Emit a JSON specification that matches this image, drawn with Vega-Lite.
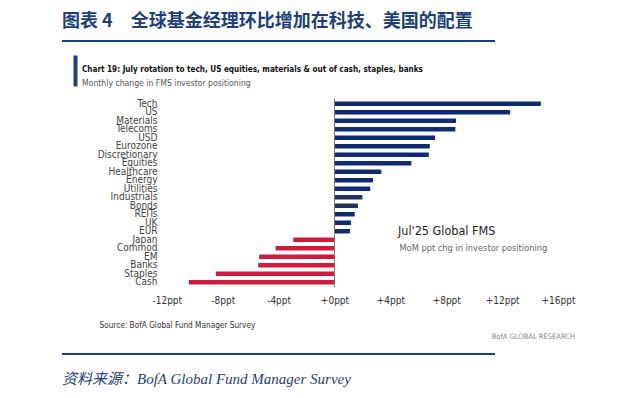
{
  "$schema": "https://vega.github.io/schema/vega-lite/v6.json",
  "background": "white",
  "padding": {"left": 62, "top": 13, "right": 4, "bottom": 4},
  "autosize": {"type": "pad"},
  "bounds": "flush",
  "spacing": 13,
  "config": {
    "view": {"stroke": null},
    "font": "DejaVu Sans Condensed, Liberation Sans, sans-serif"
  },
  "vconcat": [
    {
      "width": 433,
      "height": 2,
      "view": {"fill": "#1D3F7C", "stroke": null},
      "title": {
        "text": "图表 4　全球基金经理环比增加在科技、美国的配置",
        "anchor": "start",
        "font": "Noto Sans CJK SC",
        "fontSize": 18,
        "fontWeight": "bold",
        "color": "#1D3F7C",
        "offset": 9
      },
      "data": {"values": []},
      "mark": "point"
    },
    {
      "width": 433,
      "height": 31,
      "data": {"values": [{"k": "a"}]},
      "mark": {"type": "tick", "opacity": 0},
      "encoding": {
        "y": {
          "field": "k",
          "type": "nominal",
          "axis": {
            "labels": false,
            "ticks": false,
            "title": null,
            "domainColor": "#1D3F7C",
            "domainWidth": 4,
            "offset": -13
          }
        }
      }
    },
    {
      "width": 517,
      "height": 188,
      "title": {
        "text": "Chart 19: July rotation to tech, US equities, materials & out of cash, staples, banks",
        "subtitle": "Monthly change in FMS investor positioning",
        "anchor": "start",
        "dx": 20,
        "font": "DejaVu Sans Condensed, Liberation Sans, sans-serif",
        "fontSize": 8.1,
        "fontWeight": "bold",
        "color": "#111111",
        "subtitleFont": "DejaVu Sans Condensed, Liberation Sans, sans-serif",
        "subtitleFontSize": 8.6,
        "subtitleColor": "#555555",
        "subtitlePadding": 5,
        "offset": 11
      },
      "layer": [
        {
          "data": {
            "values": [
              {"name": "Tech", "value": 14.77},
              {"name": "US", "value": 12.57},
              {"name": "Materials", "value": 8.7},
              {"name": "Telecoms", "value": 8.65},
              {"name": "USD", "value": 7.2},
              {"name": "Eurozone", "value": 6.82},
              {"name": "Discretionary", "value": 6.75},
              {"name": "Equities", "value": 5.5},
              {"name": "Healthcare", "value": 3.35},
              {"name": "Energy", "value": 2.76},
              {"name": "Utilities", "value": 2.56},
              {"name": "Industrials", "value": 2.0},
              {"name": "Bonds", "value": 1.68},
              {"name": "REITs", "value": 1.45},
              {"name": "UK", "value": 1.18},
              {"name": "EUR", "value": 1.11},
              {"name": "Japan", "value": -2.95},
              {"name": "Commod", "value": -4.21},
              {"name": "EM", "value": -5.39},
              {"name": "Banks", "value": -5.46},
              {"name": "Staples", "value": -8.49},
              {"name": "Cash", "value": -10.42}
            ]
          },
          "mark": {"type": "bar"},
          "encoding": {
            "y": {
              "field": "name",
              "type": "nominal",
              "sort": null,
              "scale": {
                "domain": ["Tech", "US", "Materials", "Telecoms", "USD", "Eurozone", "Discretionary", "Equities", "Healthcare", "Energy", "Utilities", "Industrials", "Bonds", "REITs", "UK", "EUR", "Japan", "Commod", "EM", "Banks", "Staples", "Cash"],
                "paddingInner": 0.47,
                "paddingOuter": 0.3
              },
              "axis": {
                "title": null,
                "ticks": false,
                "domain": false,
                "offset": -97,
                "labelPadding": 2,
                "labelFont": "DejaVu Sans Condensed, Liberation Sans, sans-serif",
                "labelFontSize": 10,
                "labelColor": "#444444"
              }
            },
            "x": {
              "field": "value",
              "type": "quantitative",
              "scale": {"domain": [-19.5, 17.5], "nice": false, "zero": false},
              "axis": {
                "values": [-12, -8, -4, 0, 4, 8, 12, 16],
                "labelExpr": "datum.value >= 0 ? '+' + datum.value + 'ppt' : datum.value + 'ppt'",
                "grid": false,
                "ticks": false,
                "domain": false,
                "labelPadding": 8,
                "labelFont": "DejaVu Sans Condensed, Liberation Sans, sans-serif",
                "labelFontSize": 10,
                "labelColor": "#333333",
                "title": "Source: BofA Global Fund Manager Survey",
                "titleAnchor": "start",
                "titleAlign": "left",
                "titleX": 37,
                "titleY": 38,
                "titleBaseline": "middle",
                "titleFont": "DejaVu Sans Condensed, Liberation Sans, sans-serif",
                "titleFontSize": 8.2,
                "titleFontWeight": "normal",
                "titleColor": "#333333"
              }
            },
            "color": {
              "condition": [
                {"test": "datum.value < 0", "value": "#CF1B3D"},
                {"test": "datum.name === 'Industrials' || datum.name === 'Bonds'", "value": "#1C3558"}
              ],
              "value": "#0F2C70"
            }
          }
        },
        {
          "data": {"values": [{"zero": 0}]},
          "mark": {"type": "rule", "color": "#777777", "strokeWidth": 1},
          "encoding": {"x": {"field": "zero", "type": "quantitative"}}
        },
        {
          "data": {"values": [{"label": "Jul'25 Global FMS"}]},
          "mark": {"type": "text", "align": "left", "baseline": "middle", "font": "DejaVu Sans Condensed, Liberation Sans, sans-serif", "fontSize": 12.5, "color": "#222222"},
          "encoding": {
            "x": {"datum": 4.55},
            "y": {"datum": "EUR"},
            "text": {"field": "label"}
          }
        },
        {
          "data": {"values": [{"label": "MoM ppt chg in investor positioning"}]},
          "mark": {"type": "text", "align": "left", "baseline": "middle", "font": "DejaVu Sans Condensed, Liberation Sans, sans-serif", "fontSize": 9.2, "color": "#666666"},
          "encoding": {
            "x": {"datum": 4.65},
            "y": {"datum": "Commod"},
            "text": {"field": "label"}
          }
        }
      ]
    },
    {
      "width": 513,
      "height": 40,
      "data": {"values": []},
      "mark": "point",
      "title": {
        "text": "BofA GLOBAL RESEARCH",
        "orient": "bottom",
        "anchor": "end",
        "font": "DejaVu Sans Condensed, Liberation Sans, sans-serif",
        "fontSize": 7.5,
        "fontWeight": "normal",
        "color": "#888888",
        "offset": -7
      }
    },
    {
      "width": 433,
      "height": 2,
      "view": {"fill": "#1D3F7C", "stroke": null},
      "data": {"values": []},
      "mark": "point",
      "title": {
        "text": "资料来源：BofA Global Fund Manager Survey",
        "orient": "bottom",
        "anchor": "start",
        "font": "Times New Roman, Liberation Serif, Noto Sans CJK SC, serif",
        "fontSize": 15,
        "fontStyle": "italic",
        "fontWeight": "normal",
        "color": "#1D3F7C",
        "offset": 17
      }
    }
  ]
}
